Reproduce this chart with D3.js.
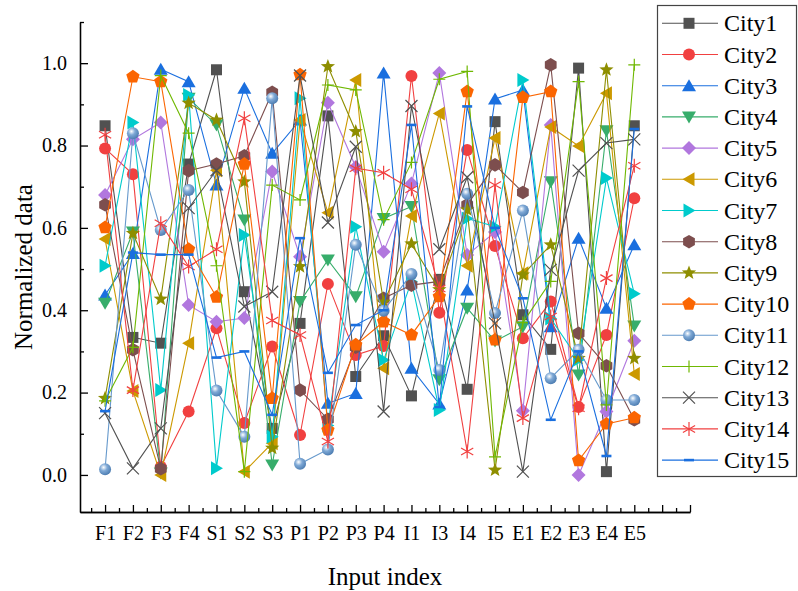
<!DOCTYPE html>
<html>
  <head>
    <meta charset="utf-8">
    <title>Normalized data by input index</title>
    <script src="https://d3js.org/d3.v7.min.js"></script>
    <style>
      body {
        margin: 0;
        background: #fff;
        font-family: "Liberation Serif", "Times New Roman", serif;
      }
      .axis path, .axis line {
        stroke: #000;
        stroke-width: 1.3px;
      }
      .axis text {
        font-family: "Liberation Serif", "Times New Roman", serif;
        font-size: 20px;
        fill: #000;
      }
      .title {
        font-size: 25px;
        fill: #000;
      }
      .legend text {
        font-size: 24px;
        fill: #000;
      }
    </style>
  </head>
  <body>
    <div id="chart"></div>
    <script>
      const categories = ["F1", "F2", "F3", "F4", "S1", "S2", "S3", "P1", "P2", "P3",
                          "P4", "I1", "I3", "I4", "I5", "E1", "E2", "E3", "E4", "E5"];
      const cityNames = ["City1", "City2", "City3", "City4", "City5", "City6", "City7", "City8",
                         "City9", "City10", "City11", "City12", "City13", "City14", "City15"];

      const city1  = [0.848, 0.334, 0.320, 0.755, 0.984, 0.445, 0.113, 0.368, 0.872, 0.239, 0.338, 0.192, 0.475, 0.208, 0.858, 0.389, 0.305, 0.988, 0.008, 0.848];
      const city2  = [0.793, 0.730, 0.020, 0.154, 0.356, 0.126, 0.312, 0.097, 0.464, 0.291, 0.313, 0.969, 0.394, 0.789, 0.556, 0.332, 0.421, 0.165, 0.340, 0.672];
      const city3  = [0.437, 0.538, 0.985, 0.955, 0.704, 0.939, 0.781, 0.862, 0.174, 0.198, 0.976, 0.259, 0.172, 0.449, 0.913, 0.935, 0.360, 0.575, 0.405, 0.559];
      const city4  = [0.417, 0.590, 0.005, 0.915, 0.850, 0.619, 0.024, 0.421, 0.522, 0.433, 0.623, 0.652, 0.231, 0.405, 0.325, 0.360, 0.712, 0.243, 0.836, 0.362];
      const city5  = [0.680, 0.815, 0.856, 0.413, 0.372, 0.381, 0.737, 0.530, 0.904, 0.748, 0.542, 0.708, 0.976, 0.534, 0.590, 0.156, 0.850, 0.000, 0.154, 0.326];
      const city6  = [0.573, 0.204, 0.000, 0.320, 0.740, 0.008, 0.077, 0.862, 0.637, 0.959, 0.259, 0.629, 0.878, 0.508, 0.818, 0.490, 0.845, 0.799, 0.927, 0.245];
      const city7  = [0.508, 0.856, 0.206, 0.923, 0.016, 0.583, 0.093, 0.915, 0.120, 0.603, 0.279, 0.470, 0.158, 0.623, 0.603, 0.959, 0.380, 0.280, 0.721, 0.440];
      const city8  = [0.656, 0.304, 0.015, 0.739, 0.755, 0.775, 0.929, 0.206, 0.135, 0.310, 0.429, 0.461, 0.470, 0.656, 0.753, 0.686, 0.996, 0.344, 0.265, 0.134];
      const city9  = [0.186, 0.587, 0.427, 0.903, 0.862, 0.712, 0.065, 0.506, 0.992, 0.834, 0.420, 0.561, 0.450, 0.644, 0.012, 0.486, 0.559, 0.283, 0.984, 0.283];
      const city10 = [0.601, 0.967, 0.955, 0.548, 0.432, 0.755, 0.186, 0.972, 0.109, 0.316, 0.372, 0.340, 0.433, 0.931, 0.328, 0.917, 0.931, 0.035, 0.124, 0.139];
      const city11 = [0.014, 0.830, 0.595, 0.692, 0.205, 0.093, 0.915, 0.027, 0.062, 0.559, 0.399, 0.488, 0.255, 0.683, 0.393, 0.642, 0.235, 0.304, 0.182, 0.182];
      const city12 = [0.180, 0.310, 0.970, 0.830, 0.508, 0.008, 0.704, 0.668, 0.947, 0.935, 0.620, 0.759, 0.961, 0.980, 0.044, 0.370, 0.470, 0.955, 0.170, 0.996];
      const city13 = [0.150, 0.016, 0.113, 0.648, 0.740, 0.409, 0.445, 0.970, 0.613, 0.797, 0.154, 0.896, 0.548, 0.723, 0.368, 0.008, 0.498, 0.739, 0.806, 0.815];
      const city14 = [0.826, 0.206, 0.611, 0.506, 0.548, 0.866, 0.375, 0.340, 0.081, 0.745, 0.734, 0.694, 0.453, 0.057, 0.704, 0.138, 0.385, 0.162, 0.478, 0.751];
      const city15 = [0.155, 0.540, 0.535, 0.535, 0.285, 0.300, 0.146, 0.575, 0.248, 0.364, 0.400, 0.850, 0.165, 0.895, 0.600, 0.429, 0.134, 0.300, 0.046, 0.840];

      const colors = ["#515151", "#F14040", "#1A6FDF", "#37AD6B", "#B177DE", "#CC9900", "#00CBCC",
                      "#7D4E4E", "#8E8E00", "#FB6501", "#6699CC", "#6FB802", "#515151", "#F14040", "#1A6FDF"];
      const shapes = ["square", "circle", "up", "down", "diamond", "left", "right", "hexagon",
                      "star", "pentagon", "sphere", "plus", "cross", "asterisk", "dash"];

      const allValues = [city1, city2, city3, city4, city5, city6, city7, city8,
                         city9, city10, city11, city12, city13, city14, city15];
      const series = cityNames.map((name, i) => ({
        name: name, color: colors[i], shape: shapes[i],
        values: allValues[i].map((v, j) => ({ idx: j + 1, value: v }))
      }));

      const width = 798, height = 591;
      const svg = d3.select("#chart").append("svg")
        .attr("width", width)
        .attr("height", height);

      const defs = svg.append("defs");
      const grad = defs.append("radialGradient")
        .attr("id", "sphere")
        .attr("cx", "38%").attr("cy", "35%").attr("r", "65%");
      grad.append("stop").attr("offset", "0%").attr("stop-color", "#ffffff");
      grad.append("stop").attr("offset", "45%").attr("stop-color", "#7fa9d6");
      grad.append("stop").attr("offset", "100%").attr("stop-color", "#4f7fb3");

      const x = d3.scaleLinear().domain([0.1, 22]).range([80, 690]);
      const y = d3.scaleLinear().domain([-0.09, 1.1]).range([512, 22]);

      // polygon helper for the marker shapes
      function poly(n, r, rot) {
        const pts = d3.range(n).map(k => {
          const a = rot + k * 2 * Math.PI / n;
          return [r * Math.cos(a), r * Math.sin(a)];
        });
        return "M" + pts.map(p => p[0].toFixed(2) + "," + p[1].toFixed(2)).join("L") + "Z";
      }
      function starPath(ro, ri) {
        const pts = d3.range(10).map(k => {
          const r = k % 2 ? ri : ro;
          const a = -Math.PI / 2 + k * Math.PI / 5;
          return [r * Math.cos(a), r * Math.sin(a)];
        });
        return "M" + pts.map(p => p[0].toFixed(2) + "," + p[1].toFixed(2)).join("L") + "Z";
      }
      function markerPath(shape) {
        switch (shape) {
          case "square": return "M-5.5,-5.5H5.5V5.5H-5.5Z";
          case "circle":
          case "sphere": return "M6,0A6,6 0 1,1 -6,0A6,6 0 1,1 6,0Z";
          case "up": return "M0,-6.5L7,5.5L-7,5.5Z";
          case "down": return "M0,6.5L7,-5.5L-7,-5.5Z";
          case "left": return "M-6.5,0L5.5,-7L5.5,7Z";
          case "right": return "M6.5,0L-5.5,-7L-5.5,7Z";
          case "diamond": return "M0,-7L7,0L0,7L-7,0Z";
          case "hexagon": return poly(6, 6.8, -Math.PI / 2);
          case "pentagon": return poly(5, 7, -Math.PI / 2);
          case "star": return starPath(7.5, 3.2);
          case "plus": return "M-6,0H6M0,-6V6";
          case "cross": return "M-6,-6L6,6M-6,6L6,-6";
          case "asterisk": return "M0,-7V7M-6.1,-3.5L6.1,3.5M-6.1,3.5L6.1,-3.5";
          case "dash": return "M-5,-1.3H5V1.3H-5Z";
        }
      }
      const stroked = { plus: true, cross: true, asterisk: true };

      function drawMarker(g, s) {
        const isStroke = stroked[s.shape];
        return g.append("path")
          .attr("d", markerPath(s.shape))
          .attr("fill", isStroke ? "none" : (s.shape === "sphere" ? "url(#sphere)" : s.color))
          .attr("stroke", isStroke ? s.color : "none")
          .attr("stroke-width", isStroke ? 1.2 : 0);
      }

      const line = d3.line()
        .x(d => x(d.idx))
        .y(d => y(d.value));

      // series: line then symbols, later series on top
      const plot = svg.append("g");
      series.forEach(s => {
        const g = plot.append("g");
        g.append("path")
          .datum(s.values)
          .attr("d", line)
          .attr("fill", "none")
          .attr("stroke", s.color)
          .attr("stroke-width", 1.1);
        g.selectAll(".pt")
          .data(s.values)
          .enter().append("g")
            .attr("class", "pt")
            .attr("transform", d => `translate(${x(d.idx)},${y(d.value)})`)
            .each(function() { drawMarker(d3.select(this), s); });
      });

      // axes with inward ticks
      const xAxis = d3.axisBottom(x)
        .tickValues(d3.range(1, 23))
        .tickFormat(d => categories[d - 1] || "")
        .tickSizeInner(-7).tickSizeOuter(0).tickPadding(14);
      const xMinor = d3.axisBottom(x)
        .tickValues(d3.range(0.5, 22, 1))
        .tickFormat("")
        .tickSizeInner(-4).tickSizeOuter(0);
      const yAxis = d3.axisLeft(y)
        .tickValues([0, 0.2, 0.4, 0.6, 0.8, 1.0])
        .tickFormat(d3.format(".1f"))
        .tickSizeInner(-8).tickSizeOuter(0).tickPadding(13);
      const yMinor = d3.axisLeft(y)
        .tickValues([0.1, 0.3, 0.5, 0.7, 0.9, 1.1])
        .tickFormat("")
        .tickSizeInner(-4).tickSizeOuter(0);

      svg.append("g").attr("class", "axis").attr("transform", "translate(0,512)").call(xMinor);
      svg.append("g").attr("class", "axis").attr("transform", "translate(0,512)").call(xAxis);
      svg.append("g").attr("class", "axis").attr("transform", "translate(80,0)").call(yMinor);
      svg.append("g").attr("class", "axis").attr("transform", "translate(80,0)").call(yAxis);

      svg.append("text")
        .attr("class", "title")
        .attr("x", 385).attr("y", 585)
        .attr("text-anchor", "middle")
        .text("Input index");
      svg.append("text")
        .attr("class", "title")
        .attr("transform", "translate(32,267) rotate(-90)")
        .attr("text-anchor", "middle")
        .text("Normalized data");

      // legend
      const legend = svg.append("g").attr("class", "legend");
      legend.append("rect")
        .attr("x", 657.5).attr("y", 5.5)
        .attr("width", 139).attr("height", 471)
        .attr("fill", "#fff")
        .attr("stroke", "#444")
        .attr("stroke-width", 1.2);
      series.forEach((s, i) => {
        const ly = 23.3 + i * 31.2;
        const item = legend.append("g");
        item.append("line")
          .attr("x1", 662).attr("x2", 718)
          .attr("y1", ly).attr("y2", ly)
          .attr("stroke", s.color)
          .attr("stroke-width", 1.1);
        const m = item.append("g").attr("transform", `translate(689,${ly})`);
        drawMarker(m, s);
        item.append("text")
          .attr("x", 724).attr("y", ly + 8)
          .text(s.name);
      });
    </script>
  </body>
</html>
